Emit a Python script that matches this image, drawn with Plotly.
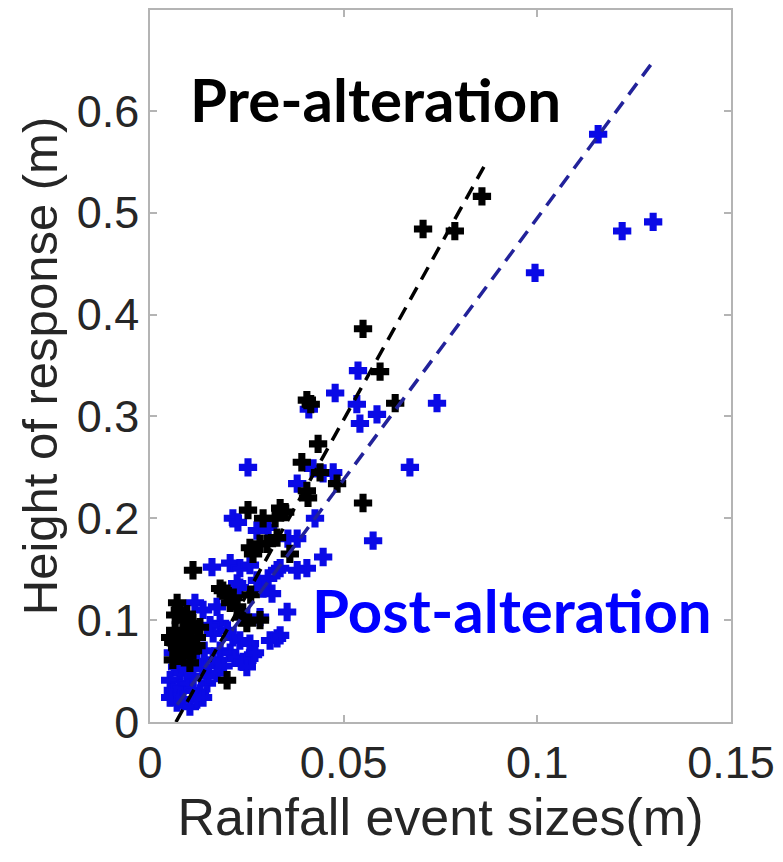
import plotly.graph_objects as go

# Pre-alteration (black) points
pre_x = [0.0857, 0.0705, 0.0787, 0.0550, 0.0594, 0.0405, 0.0415, 0.0633, 0.0434, 0.0392,
         0.0439, 0.0483, 0.0405, 0.0408, 0.0550, 0.0253, 0.0336, 0.0349, 0.0323, 0.0292,
         0.0258, 0.0302, 0.0328, 0.0361, 0.0284, 0.0266, 0.0111, 0.0181, 0.0199, 0.0207,
         0.0188, 0.0070, 0.0077, 0.0225, 0.0240, 0.0250, 0.0284, 0.0085, 0.0111, 0.0129,
         0.0052, 0.0077, 0.0096, 0.0121, 0.0070, 0.0085, 0.0059, 0.0111, 0.0103, 0.0199,
         0.0065, 0.0090, 0.0065, 0.0095, 0.0120, 0.0075, 0.0060, 0.0100, 0.0215, 0.0260]
pre_y = [0.516, 0.484, 0.482, 0.386, 0.344, 0.316, 0.312, 0.313, 0.273, 0.255,
         0.245, 0.234, 0.227, 0.220, 0.215, 0.208, 0.210, 0.206, 0.200, 0.200,
         0.171, 0.175, 0.181, 0.165, 0.175, 0.165, 0.149, 0.131, 0.126, 0.117,
         0.129, 0.117, 0.110, 0.113, 0.103, 0.097, 0.100, 0.100, 0.097, 0.093,
         0.083, 0.083, 0.080, 0.083, 0.073, 0.068, 0.061, 0.070, 0.058, 0.041,
         0.090, 0.088, 0.105, 0.106, 0.075, 0.065, 0.078, 0.090, 0.122, 0.125]

# Post-alteration (blue) points
post_x = [0.1157, 0.1219, 0.1299, 0.0994, 0.0741, 0.0671, 0.0537, 0.0478, 0.0534, 0.0586,
          0.0542, 0.0410, 0.0253, 0.0421, 0.0447, 0.0473, 0.0380, 0.0426, 0.0214, 0.0227,
          0.0276, 0.0305, 0.0356, 0.0380, 0.0576, 0.0447, 0.0405, 0.0380, 0.0336, 0.0160,
          0.0207, 0.0232, 0.0258, 0.0276, 0.0305, 0.0292, 0.0328, 0.0232, 0.0225, 0.0315,
          0.0354, 0.0116, 0.0137, 0.0173, 0.0181, 0.0163, 0.0250, 0.0284, 0.0214, 0.0232,
          0.0258, 0.0310, 0.0328, 0.0181, 0.0207, 0.0219, 0.0240, 0.0266, 0.0250, 0.0059,
          0.0070, 0.0077, 0.0096, 0.0121, 0.0137, 0.0163, 0.0173, 0.0052, 0.0059, 0.0077,
          0.0096, 0.0111, 0.0129, 0.0147, 0.0052, 0.0070, 0.0085, 0.0103, 0.0121, 0.0137,
          0.0271, 0.0336, 0.0150, 0.0110, 0.0190, 0.0090, 0.0140, 0.0155, 0.0200]
post_y = [0.577, 0.482, 0.491, 0.441, 0.313, 0.250, 0.345, 0.323, 0.312, 0.302,
          0.293, 0.307, 0.250, 0.249, 0.244, 0.245, 0.234, 0.200, 0.200, 0.196,
          0.188, 0.191, 0.180, 0.180, 0.178, 0.162, 0.151, 0.149, 0.151, 0.152,
          0.156, 0.151, 0.154, 0.139, 0.141, 0.131, 0.149, 0.132, 0.136, 0.126,
          0.108, 0.117, 0.110, 0.113, 0.097, 0.087, 0.103, 0.103, 0.083, 0.080,
          0.077, 0.080, 0.082, 0.070, 0.068, 0.063, 0.059, 0.066, 0.054, 0.068,
          0.054, 0.048, 0.051, 0.058, 0.054, 0.061, 0.048, 0.041, 0.031, 0.034,
          0.038, 0.031, 0.028, 0.038, 0.024, 0.019, 0.022, 0.015, 0.022, 0.024,
          0.068, 0.085, 0.045, 0.045, 0.055, 0.065, 0.070, 0.095, 0.090]

# Fitted trend lines (end points)
pre_fit_x = [0.0067, 0.0862]
pre_fit_y = [0.0, 0.545]
post_fit_x = [0.0070, 0.1304]
post_fit_y = [0.017, 0.651]

x_ticks = [0, 0.05, 0.1, 0.15]
x_tick_text = ["0", "0.05", "0.1", "0.15"]
y_ticks = [0, 0.1, 0.2, 0.3, 0.4, 0.5, 0.6]
y_tick_text = ["0", "0.1", "0.2", "0.3", "0.4", "0.5", "0.6"]

fig = go.Figure()
fig.add_trace(go.Scatter(x=post_x, y=post_y, mode="markers",
                         marker=dict(symbol="cross", size=14, color="#0a0ae6",
                                     line=dict(width=1.5, color="#0a0ae6")),
                         showlegend=False))
fig.add_trace(go.Scatter(x=pre_x, y=pre_y, mode="markers",
                         marker=dict(symbol="cross", size=14, color="#000000",
                                     line=dict(width=1.5, color="#000000")),
                         showlegend=False))
fig.add_trace(go.Scatter(x=pre_fit_x, y=pre_fit_y, mode="lines",
                         line=dict(color="#000000", width=3.5, dash="14px,9px"),
                         showlegend=False))
fig.add_trace(go.Scatter(x=post_fit_x, y=post_fit_y, mode="lines",
                         line=dict(color="#22229a", width=3.5, dash="14px,9px"),
                         showlegend=False))

fig.add_annotation(x=0.0581, y=0.612, xref="x", yref="y", text="<b>Pre-alteration</b>",
                   showarrow=False, font=dict(family="Lato", size=60, color="#000000"))
fig.add_annotation(x=0.0935, y=0.110, xref="x", yref="y", text="<b>Post-alteration</b>",
                   showarrow=False, font=dict(family="Lato", size=60, color="#0000ff"))

axis_common = dict(showline=True, mirror="ticks", linecolor="#b4b4b4", linewidth=1.5,
                   ticks="inside", ticklen=7, tickcolor="#b4b4b4", tickwidth=1.5,
                   showgrid=False, zeroline=False,
                   tickfont=dict(family="Liberation Sans", size=45, color="#262626"))

fig.update_xaxes(range=[0, 0.15], tickvals=x_ticks, ticktext=x_tick_text,
                 title=dict(text="Rainfall event sizes(m)",
                            font=dict(family="Liberation Sans", size=52, color="#262626"),
                            standoff=8),
                 **axis_common)
fig.update_yaxes(range=[0, 0.699], tickvals=y_ticks, ticktext=y_tick_text,
                 title=dict(text="Height of response (m)",
                            font=dict(family="Liberation Sans", size=49, color="#262626"),
                            standoff=4),
                 **axis_common)

fig.update_layout(width=775, height=854, margin=dict(l=142, r=52, t=0, b=140),
                  plot_bgcolor="white", paper_bgcolor="white")

fig.write_html("out.html")
